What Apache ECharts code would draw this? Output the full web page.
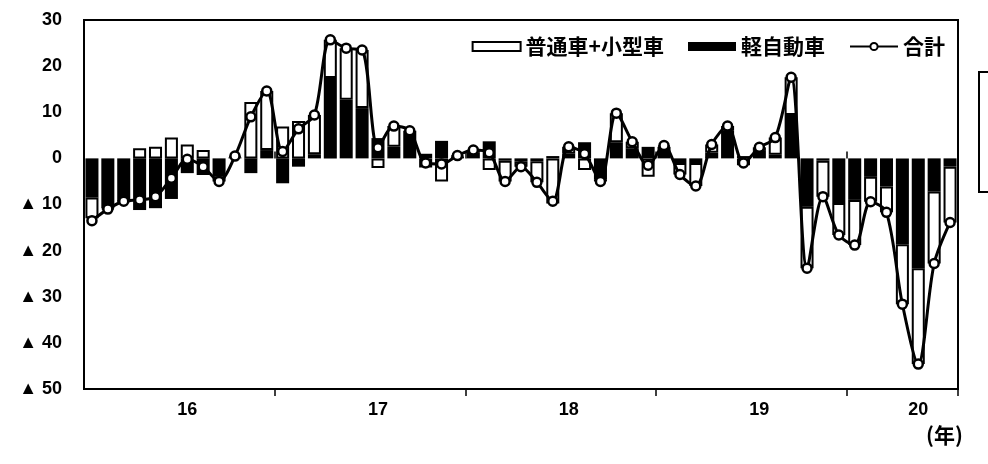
<!DOCTYPE html>
<html><head><meta charset="utf-8">
<script src="https://cdn.jsdelivr.net/npm/echarts@6/dist/echarts.min.js"></script>
<style>html,body{margin:0;padding:0;background:#fff}#c{width:988px;height:464px}</style>
</head><body><div id="c"></div>
<script>
// Months Jan 2016 .. Jul 2020 (year shown as 2-digit)
const months = [
  '16/1','16/2','16/3','16/4','16/5','16/6','16/7','16/8','16/9','16/10','16/11','16/12',
  '17/1','17/2','17/3','17/4','17/5','17/6','17/7','17/8','17/9','17/10','17/11','17/12',
  '18/1','18/2','18/3','18/4','18/5','18/6','18/7','18/8','18/9','18/10','18/11','18/12',
  '19/1','19/2','19/3','19/4','19/5','19/6','19/7','19/8','19/9','19/10','19/11','19/12',
  '20/1','20/2','20/3','20/4','20/5','20/6','20/7'
];
// year labels shown under these category indices
const yearLabelIdx = [6, 18, 30, 42, 52];
// year-boundary ticks before these category indices
const yearTickIdx = [12, 24, 36, 48];

// 軽自動車 contribution (%pt)
const kei = [
  -8.5,-10.8,-9.3,-11.2,-10.8,-8.8,-3.2,-3.6,-4.0,0.2,-3.2,1.8,
  -5.4,-1.8,0.9,17.4,12.7,10.9,4.4,2.5,5.5,1.0,3.8,0.4,
  1.2,3.7,-0.5,-0.6,-0.6,0.5,1.0,3.5,-4.5,3.5,2.2,2.5,
  2.5,-1.0,-1.0,1.2,6.0,0.5,1.8,0.8,9.4,-10.5,-0.5,-9.7,
  -9.0,-4.0,-6.1,-18.6,-23.8,-7.2,-1.8
];
// 普通車+小型車 contribution (%pt)
const futsu = [
  -4.5,-0.2,0.0,2.2,2.5,4.5,3.0,1.8,-1.0,0.3,12.2,12.8,
  6.9,8.1,8.5,8.3,11.2,12.6,-2.1,4.5,0.5,-2.0,-5.0,0.2,
  0.6,-2.5,-4.5,-1.2,-4.6,-9.8,1.5,-2.5,-0.5,6.3,1.4,-4.0,
  0.3,-2.5,-5.0,1.8,1.0,-1.5,0.6,3.7,8.2,-13.3,-7.8,-6.9,
  -9.8,-5.4,-5.6,-13.0,-20.8,-15.6,-12.1
];
// 合計 (%)
const total = [
  -13.5,-11.0,-9.3,-9.0,-8.3,-4.3,-0.2,-1.8,-5.0,0.5,9.0,14.6,
  1.5,6.4,9.4,25.7,23.9,23.5,2.3,7.0,6.0,-1.0,-1.2,0.6,
  1.8,1.2,-5.0,-1.8,-5.2,-9.3,2.5,1.0,-5.0,9.8,3.6,-1.5,
  2.8,-3.5,-6.0,3.0,7.0,-1.0,2.4,4.5,17.6,-23.8,-8.3,-16.6,
  -18.8,-9.4,-11.7,-31.6,-44.6,-22.8,-13.9
];

const chart = echarts.init(document.getElementById('c'), null, {renderer: 'canvas'});
const fontNum = 'Liberation Sans, Arial, sans-serif';
const fontJa = '"Noto Sans CJK JP", sans-serif';

chart.setOption({
  animation: false,
  backgroundColor: '#fff',
  grid: {left: 84, right: 30, top: 20, bottom: 75, show: true, borderColor: '#000', borderWidth: 2},
  legend: {
    data: [{name: '普通車+小型車', icon: 'rect'}, {name: '軽自動車', icon: 'rect'}, {name: '合計'}],
    right: 43, top: 36, padding: 0,
    itemWidth: 48, itemHeight: 9, itemGap: 24,
    textStyle: {fontSize: 21, fontWeight: 'bold', fontFamily: fontJa, color: '#000'}
  },
  xAxis: [{
    type: 'category', data: months, boundaryGap: true,
    axisLine: {onZero: false, lineStyle: {color: '#000', width: 2}},
    axisTick: {show: true, length: 7, lineStyle: {color: '#000', width: 1.5},
      interval: (i) => yearTickIdx.includes(i)},
    axisLabel: {interval: (i) => yearLabelIdx.includes(i), formatter: (v) => v.split('/')[0],
      fontSize: 18, fontWeight: 'bold', fontFamily: fontNum, color: '#000', margin: 12},
    splitLine: {show: false}
  }, {
    type: 'category', data: months, boundaryGap: true, position: 'bottom',
    axisLine: {show: false},
    axisTick: {show: true, inside: true, length: 7, lineStyle: {color: '#000', width: 1.5},
      interval: (i) => yearTickIdx.includes(i)},
    axisLabel: {show: false}, splitLine: {show: false}
  }],
  yAxis: {
    type: 'value', min: -50, max: 30, interval: 10,
    axisLine: {show: true, lineStyle: {color: '#000', width: 2}},
    axisTick: {show: false}, splitLine: {show: false},
    axisLabel: {formatter: (v) => v < 0 ? '▲ ' + (-v) : String(v),
      fontSize: 18, fontWeight: 'bold', fontFamily: fontNum, color: '#000', margin: 22}
  },
  series: [
    {name: '軽自動車', type: 'bar', stack: 'c', data: kei, barCategoryGap: '18%',
      itemStyle: {color: '#000'}},
    {name: '普通車+小型車', type: 'bar', stack: 'c', data: futsu, barCategoryGap: '18%',
      itemStyle: {color: '#fff', borderColor: '#000', borderWidth: 2}},
    {name: '合計', type: 'line', data: total, smooth: 0.3, z: 5,
      symbol: 'circle', symbolSize: 9, showAllSymbol: true,
      lineStyle: {color: '#000', width: 3},
      itemStyle: {color: '#fff', borderColor: '#000', borderWidth: 2.5}}
  ],
  graphic: [
    {type: 'text', left: 926, top: 425, style: {text: '(年)', fontSize: 21, fontWeight: 'bold', fontFamily: fontJa, fill: '#000'}},
    {type: 'rect', shape: {x: 979, y: 72, width: 30, height: 120}, style: {fill: 'none', stroke: '#000', lineWidth: 2}}
  ]
});
</script>
</body></html>
